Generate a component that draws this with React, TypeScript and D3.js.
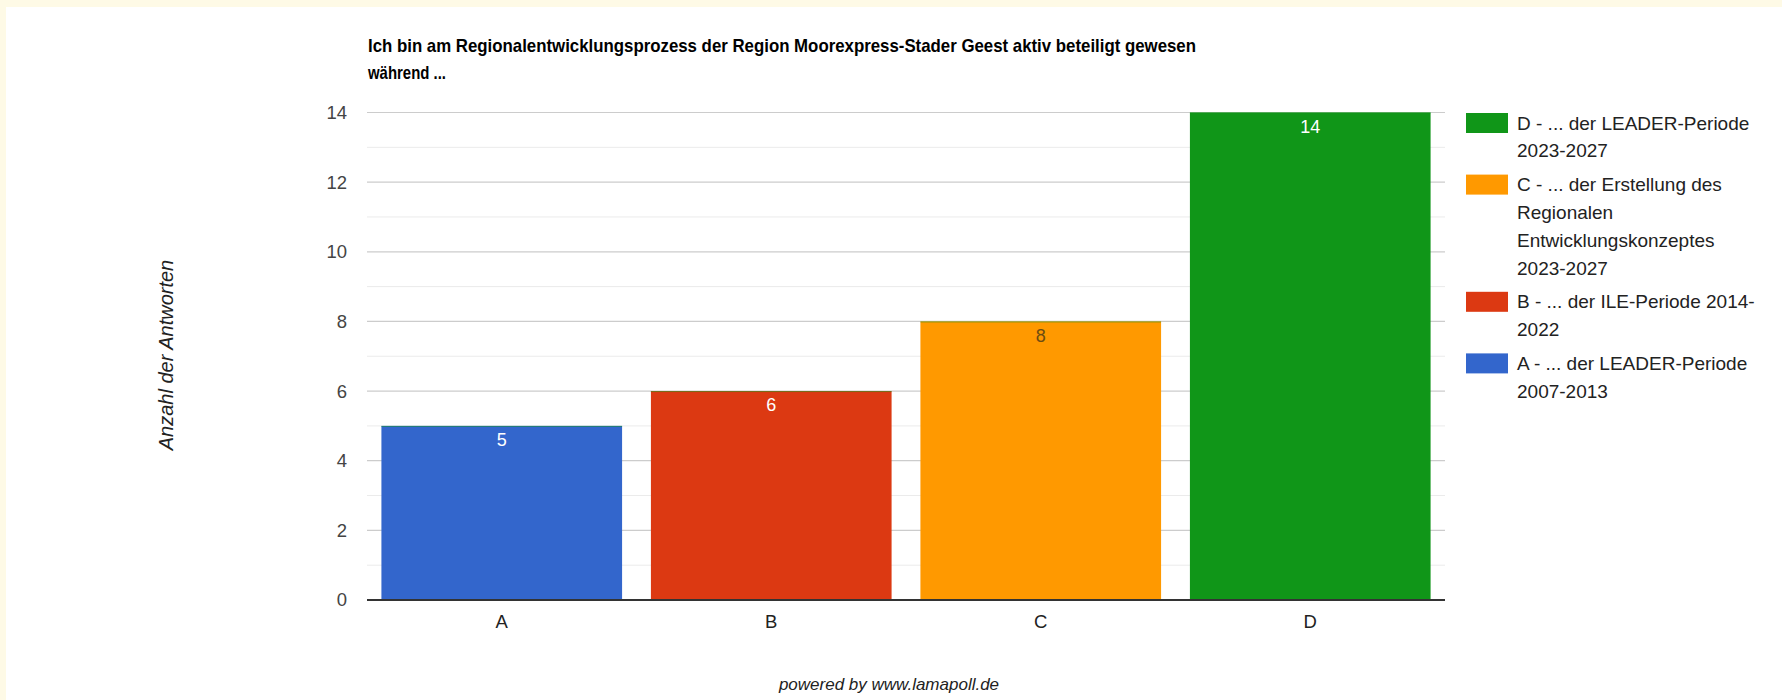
import React from 'react'
import * as d3 from 'd3'

const categories = ['A', 'B', 'C', 'D']
const counts = [5, 6, 8, 14]
const barColors = ['#3366cc', '#dc3912', '#ff9900', '#109618']
const labelColors = ['#ffffff', '#ffffff', '#6b4c12', '#ffffff']
const yTicks = [0, 2, 4, 6, 8, 10, 12, 14]
const yMinorTicks = [1, 3, 5, 7, 9, 11, 13]
// legend is listed top to bottom, already wrapped like the original
const legendKeys = ['D', 'C', 'B', 'A']
const legendLines = [
  ['D - ... der LEADER-Periode', '2023-2027'],
  ['C - ... der Erstellung des', 'Regionalen', 'Entwicklungskonzeptes', '2023-2027'],
  ['B - ... der ILE-Periode 2014-', '2022'],
  ['A - ... der LEADER-Periode', '2007-2013'],
]
const titleLines = [
  'Ich bin am Regionalentwicklungsprozess der Region Moorexpress-Stader Geest aktiv beteiligt gewesen',
  'während ...',
]
const yTitle = 'Anzahl der Antworten'
const footer = 'powered by www.lamapoll.de'

const W = 1782
const H = 700
const font = "Arial, 'Liberation Sans', sans-serif"

export default function App() {
  const x = d3.scaleBand()
    .domain(categories)
    .range([367, 1445])
    .paddingInner(0.107)
    .paddingOuter(0.0535)
  const y = d3.scaleLinear().domain([0, 14]).range([600, 112.5])

  const colorOf = d3.scaleOrdinal<string, string>().domain(categories).range(barColors)

  let ly = 123
  const legend = legendKeys.map((k, i) => {
    const top = ly
    ly += legendLines[i].length * 27.8 + 6
    return { key: k, lines: legendLines[i], top }
  })

  return (
    <svg width={W} height={H} style={{ position: 'absolute', left: 0, top: 0, fontFamily: font }}>
      <rect x={0} y={0} width={W} height={H} fill='#fefae6' />
      <rect x={6} y={7} width={W - 6} height={H - 7} fill='#ffffff' />

      {/* title */}
      <text x={368} y={52} fontSize={18.5} fontWeight='bold' fill='#000'
        textLength={828} lengthAdjust='spacingAndGlyphs'>{titleLines[0]}</text>
      <text x={368} y={79} fontSize={18.5} fontWeight='bold' fill='#000'
        textLength={78} lengthAdjust='spacingAndGlyphs'>{titleLines[1]}</text>

      {/* grid */}
      {yMinorTicks.map(t => (
        <line key={'m' + t} x1={367} x2={1445} y1={y(t)} y2={y(t)} stroke='#ebebeb' strokeWidth={1} />
      ))}
      {yTicks.filter(t => t > 0).map(t => (
        <line key={'g' + t} x1={367} x2={1445} y1={y(t)} y2={y(t)} stroke='#cccccc' strokeWidth={1.2} />
      ))}
      {yTicks.map(t => (
        <text key={'t' + t} x={347} y={y(t)} dy='0.35em' textAnchor='end' fontSize={18.5} fill='#444'>{t}</text>
      ))}

      {/* bars */}
      {categories.map((c, i) => (
        <g key={c}>
          <rect x={x(c)} y={y(counts[i])} width={x.bandwidth()} height={y(0) - y(counts[i])} fill={colorOf(c)} />
          <line x1={x(c)} x2={x(c)! + x.bandwidth()} y1={y(counts[i]) + 0.5} y2={y(counts[i]) + 0.5}
            stroke='#109618' strokeOpacity={0.5} />
          <text x={x(c)! + x.bandwidth() / 2} y={y(counts[i]) + 14} dy='0.35em' textAnchor='middle'
            fontSize={18} fill={labelColors[i]}>{counts[i]}</text>
          <text x={x(c)! + x.bandwidth() / 2} y={622} dy='0.35em' textAnchor='middle'
            fontSize={18.5} fill='#222'>{c}</text>
        </g>
      ))}
      <line x1={367} x2={1445} y1={y(0)} y2={y(0)} stroke='#333' strokeWidth={2} />

      {/* y axis title */}
      <text transform={`translate(166,355) rotate(-90)`} textAnchor='middle' dy='0.35em'
        fontSize={20} fontStyle='italic' fill='#222'>{yTitle}</text>

      {/* legend */}
      {legend.map(l => (
        <g key={l.key}>
          <rect x={1466} y={l.top - 10} width={42} height={20} fill={colorOf(l.key)} />
          {l.lines.map((s, j) => (
            <text key={j} x={1517} y={l.top + j * 27.8} dy='0.35em' fontSize={19} fill='#222'>{s}</text>
          ))}
        </g>
      ))}

      <text x={889} y={684} dy='0.35em' textAnchor='middle' fontSize={17} fontStyle='italic' fill='#222'>{footer}</text>
    </svg>
  )
}
